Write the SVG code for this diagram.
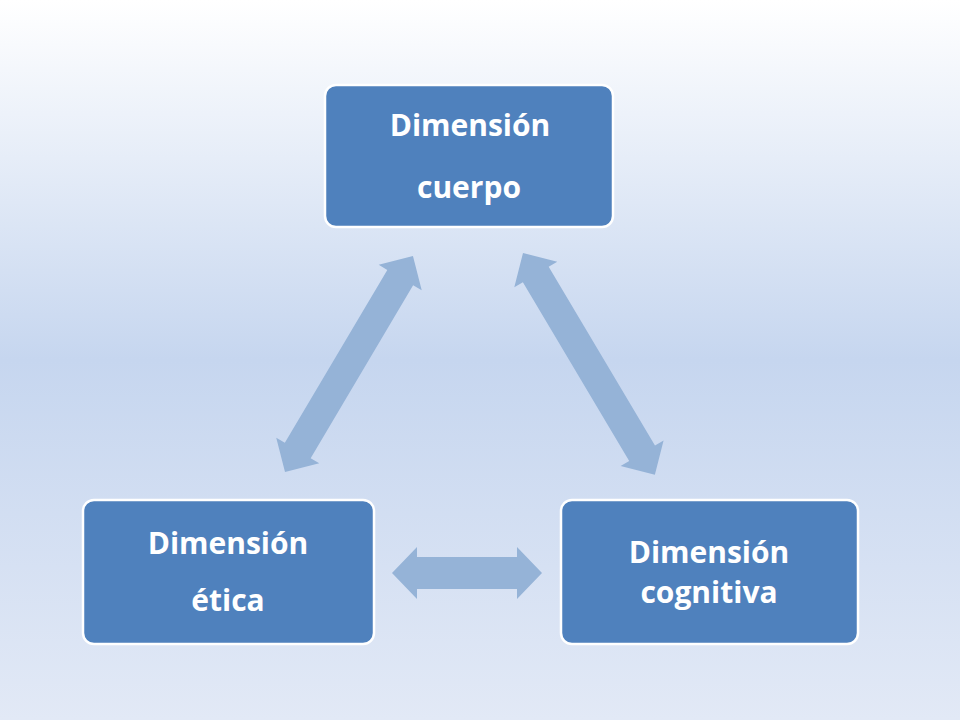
<svg xmlns="http://www.w3.org/2000/svg" width="960" height="720" viewBox="0 0 960 720">
<defs>
<linearGradient id="bg" x1="0" y1="0" x2="0" y2="1">
<stop offset="0" stop-color="#ffffff"/>
<stop offset="0.5" stop-color="#c6d6ef"/>
<stop offset="1" stop-color="#e2e9f6"/>
</linearGradient>
</defs>
<style>
.box{fill:#4f81bd;stroke:#ffffff;stroke-width:2.5}
.lbl{font-family:"Open Sans","Noto Sans",sans-serif;font-weight:bold;font-size:30px;fill:#ffffff;text-anchor:middle}
.arr{fill:#95b3d7}
</style>
<rect x="0" y="0" width="960" height="720" fill="url(#bg)"/>
<g id="connectors">
<path class="arr" transform="translate(285,472) rotate(-59.35)" d="M0,0 L25,-25 L25,-15 L226,-15 L226,-25 L251,0 L226,25 L226,15 L25,15 L25,25 Z"/>
<path class="arr" transform="translate(523,253) rotate(59.26)" d="M0,0 L25,-25 L25,-15 L233,-15 L233,-25 L258,0 L233,25 L233,15 L25,15 L25,25 Z"/>
<path class="arr" transform="translate(392,573)" d="M0,0 L25,-26 L25,-16 L125,-16 L125,-26 L150,0 L125,26 L125,16 L25,16 L25,26 Z"/>
</g>
<g id="node-cuerpo">
<rect class="box" x="325" y="85" width="288" height="142" rx="11"/>
<text class="lbl" x="470" y="136">Dimensión</text>
<text class="lbl" x="469" y="198">cuerpo</text>
</g>
<g id="node-etica">
<rect class="box" x="83" y="500" width="291" height="144" rx="11"/>
<text class="lbl" x="228" y="554">Dimensión</text>
<text class="lbl" x="228" y="611">ética</text>
</g>
<g id="node-cognitiva">
<rect class="box" x="561" y="500" width="297" height="144" rx="11"/>
<text class="lbl" x="709" y="563">Dimensión</text>
<text class="lbl" x="709" y="603">cognitiva</text>
</g>
</svg>
